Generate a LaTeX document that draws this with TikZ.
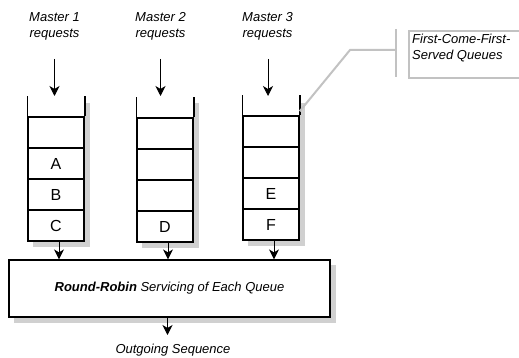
\documentclass[tikz,border=0pt]{standalone}
\usepackage{fontspec}
\setmainfont{Liberation Sans}
\usetikzlibrary{arrows.meta}
\definecolor{dropgray}{RGB}{208,208,208}
\definecolor{callgray}{RGB}{194,194,194}

\begin{document}
\begin{tikzpicture}[x=1pt,y=-1pt,
  lbl/.style={align=center,inner sep=0pt,font=\fontsize{13}{16}\selectfont\itshape},
  cell/.style={draw=black,line width=1.5pt,fill=white,minimum width=56pt,
    minimum height=31pt,inner sep=0pt,font=\fontsize{16}{16}\selectfont},
  side/.style={draw=black,line width=1.5pt},
  arr/.style={-{Stealth[length=10pt,width=10pt,inset=3pt]},line width=1pt},
  rrbox/.style={draw=black,line width=1.2pt,fill=white,minimum width=321pt,
    minimum height=57pt,inner sep=0pt,font=\fontsize{13}{16}\selectfont\itshape},
  callbox/.style={draw=callgray,line width=2pt,fill=white,inner sep=0pt},
  callline/.style={draw=callgray,line width=2pt},
  dropbox/.style={fill=dropgray,draw=dropgray,line width=1pt,inner sep=0pt,anchor=north west}]

\useasboundingbox (0,0) rectangle (519,358);

% request labels above the three queues
\node[lbl] (m1) at (54.5,26) {Master 1\\requests};
\node[lbl] (m2) at (160.5,26) {Master 2\\requests};
\node[lbl] (m3) at (267.5,26) {Master 3\\requests};

% drop shadows of the queues and of the server box
\node[dropbox,minimum width=56pt,minimum height=143pt] (s1) at (33,103) {};
\node[dropbox,minimum width=56pt,minimum height=144pt] (s2) at (142,103) {};
\node[dropbox,minimum width=56pt,minimum height=142pt] (s3) at (248,103) {};
\node[dropbox,minimum width=321pt,minimum height=57pt] (s4) at (14,265) {};

% three FIFO queues: open top and four cells each
\foreach \n/\cx/\ty/\la/\lb/\lc/\ld in
  {1/56/117/{}/A/B/C, 2/165/118/{}/{}/{}/D, 3/271/116/{}/{}/E/F}{
  \fill[white] (\cx-28,97) rectangle (\cx+28,\ty+124);
  \node[cell] (q\n c1) at (\cx,\ty+15.5) {\la};
  \node[cell] (q\n c2) at (\cx,\ty+46.5) {\lb};
  \node[cell] (q\n c3) at (\cx,\ty+77.5) {\lc};
  \node[cell] (q\n c4) at (\cx,\ty+108.5) {\ld};
  \draw[side] (q\n c1.north west) -- ++(0,-20);
  \draw[side] (q\n c1.north east) -- ++(0,-20);
  \coordinate (q\n top) at (\cx,96);
}

% incoming request arrows
\coordinate (in1) at (54.5,59);
\coordinate (in2) at (160.5,59);
\coordinate (in3) at (268,59);
\draw[arr] (in1) -- (in1 |- q1top);
\draw[arr] (in2) -- (in2 |- q2top);
\draw[arr] (in3) -- (in3 |- q3top);

% round-robin server
\node[rrbox] (rr) at (169.5,288.5) {\textbf{Round-Robin} Servicing of Each Queue};

\draw[arr] ([xshift=3pt]q1c4.south) -- ([xshift=3pt]q1c4.south |- rr.north);
\draw[arr] ([xshift=3pt]q2c4.south) -- ([xshift=3pt]q2c4.south |- rr.north);
\draw[arr] ([xshift=3pt]q3c4.south) -- ([xshift=3pt]q3c4.south |- rr.north);

% outgoing sequence
\coordinate (outend) at (167.5,335);
\draw[arr] (rr.south -| outend) -- (outend);
\node[lbl] (outlbl) at (173,350) {Outgoing Sequence};

% callout for the queues
\node[callbox,anchor=north west,minimum width=130pt,minimum height=47pt] (fcfs) at (408,30) {};
\node[lbl,align=left,anchor=north west] (fcfstext) at (412,33.5) {First-Come-First-\\Served Queues};
\coordinate (elbow) at (350,50);
\coordinate (brk) at (396,50);
\draw[callline] ([yshift=4pt]q3c1.north east) -- (elbow) -- (brk);
\draw[callline] ([yshift=21pt]brk) -- ([yshift=-27pt]brk);
\end{tikzpicture}
\end{document}
